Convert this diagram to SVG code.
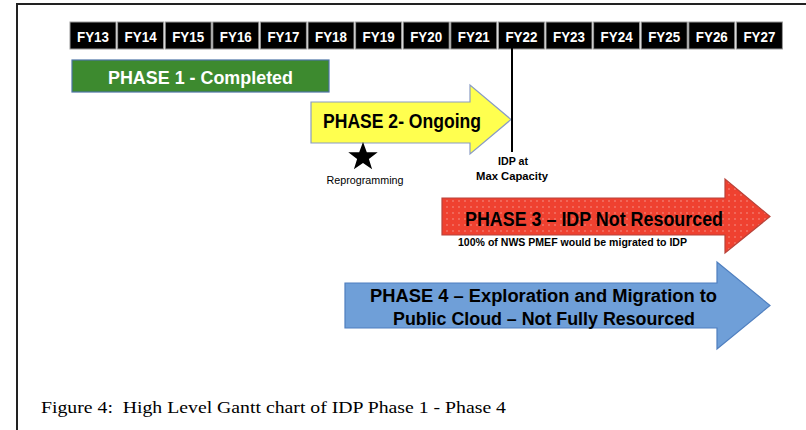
<svg xmlns="http://www.w3.org/2000/svg" width="806" height="430" viewBox="0 0 806 430">
<style>
.fy rect{fill:#000;stroke:#9a9a9a;stroke-width:1}
.fy text{fill:#fff;font-family:"Liberation Sans",Arial,sans-serif;font-weight:bold;font-size:15.5px;text-anchor:middle}
.lbl{font-family:"Liberation Sans",Arial,sans-serif;font-weight:bold;text-anchor:middle}
</style>
<defs>
<pattern id="dots" width="6" height="6" patternUnits="userSpaceOnUse">
<rect width="6" height="6" fill="#ef4130"/>
<circle cx="3" cy="3" r="0.7" fill="#f6aaa0"/>
</pattern>
</defs>
<rect width="806" height="430" fill="#fff"/>
<g id="frame" fill="none" stroke="#222" stroke-width="2">
<path d="M17,430 V4 H806"/>
</g>
<g id="timeline" class="fy">
<rect x="70" y="22" width="46" height="27"/><text x="93" y="41.5" textLength="32" lengthAdjust="spacingAndGlyphs">FY13</text>
<rect x="117.6" y="22" width="46" height="27"/><text x="140.6" y="41.5" textLength="32" lengthAdjust="spacingAndGlyphs">FY14</text>
<rect x="165.2" y="22" width="46" height="27"/><text x="188.2" y="41.5" textLength="32" lengthAdjust="spacingAndGlyphs">FY15</text>
<rect x="212.8" y="22" width="46" height="27"/><text x="235.8" y="41.5" textLength="32" lengthAdjust="spacingAndGlyphs">FY16</text>
<rect x="260.4" y="22" width="46" height="27"/><text x="283.4" y="41.5" textLength="32" lengthAdjust="spacingAndGlyphs">FY17</text>
<rect x="308" y="22" width="46" height="27"/><text x="331" y="41.5" textLength="32" lengthAdjust="spacingAndGlyphs">FY18</text>
<rect x="355.6" y="22" width="46" height="27"/><text x="378.6" y="41.5" textLength="32" lengthAdjust="spacingAndGlyphs">FY19</text>
<rect x="403.2" y="22" width="46" height="27"/><text x="426.2" y="41.5" textLength="32" lengthAdjust="spacingAndGlyphs">FY20</text>
<rect x="450.8" y="22" width="46" height="27"/><text x="473.8" y="41.5" textLength="32" lengthAdjust="spacingAndGlyphs">FY21</text>
<rect x="498.4" y="22" width="46" height="27"/><text x="521.4" y="41.5" textLength="32" lengthAdjust="spacingAndGlyphs">FY22</text>
<rect x="546" y="22" width="46" height="27"/><text x="569" y="41.5" textLength="32" lengthAdjust="spacingAndGlyphs">FY23</text>
<rect x="593.6" y="22" width="46" height="27"/><text x="616.6" y="41.5" textLength="32" lengthAdjust="spacingAndGlyphs">FY24</text>
<rect x="641.2" y="22" width="46" height="27"/><text x="664.2" y="41.5" textLength="32" lengthAdjust="spacingAndGlyphs">FY25</text>
<rect x="688.8" y="22" width="46" height="27"/><text x="711.8" y="41.5" textLength="32" lengthAdjust="spacingAndGlyphs">FY26</text>
<rect x="736.4" y="22" width="46" height="27"/><text x="759.4" y="41.5" textLength="32" lengthAdjust="spacingAndGlyphs">FY27</text>
</g>
<g id="phase1">
<rect x="72" y="60" width="257" height="32" fill="#3d8a2f" stroke="#4d74a6" stroke-width="1.2"/>
<text class="lbl" x="200.5" y="83.5" font-size="18" fill="#fff" textLength="185" lengthAdjust="spacingAndGlyphs">PHASE 1 - Completed</text>
</g>
<g id="phase2">
<path d="M311,102 H470 V85 L511,119.5 L470,154 V143 H311 Z" fill="#ffff4f" stroke="#8a9cc4" stroke-width="1.2"/>
<text class="lbl" x="402" y="128" font-size="20" fill="#000" textLength="158" lengthAdjust="spacingAndGlyphs">PHASE 2- Ongoing</text>
</g>
<g id="connectors">
<line x1="512" y1="48" x2="512" y2="152" stroke="#000" stroke-width="2"/>
</g>
<g id="idp-capacity">
<text class="lbl" x="513" y="164.5" font-size="11" fill="#000" textLength="30" lengthAdjust="spacingAndGlyphs">IDP at</text>
<text class="lbl" x="512" y="180" font-size="11" fill="#000" textLength="72" lengthAdjust="spacingAndGlyphs">Max Capacity</text>
</g>
<g id="reprogramming">
<polygon points="363,142 366.8,152.3 377.7,152.3 368.9,158.9 372.1,169.3 363,163 353.9,169.3 357.1,158.9 348.3,152.3 359.2,152.3" fill="#000"/>
<text x="365" y="184" font-family="Liberation Sans,Arial,sans-serif" font-size="10.5" text-anchor="middle" fill="#000" textLength="77" lengthAdjust="spacingAndGlyphs">Reprogramming</text>
</g>
<g id="phase3">
<path d="M442,198 H725 V179 L770,216.5 L725,253 V235 H442 Z" fill="url(#dots)" stroke="#b8433a" stroke-width="1.2"/>
<text class="lbl" x="594" y="226" font-size="20" fill="#000" textLength="258" lengthAdjust="spacingAndGlyphs">PHASE 3 – IDP Not Resourced</text>
<text class="lbl" x="572.5" y="245.5" font-size="10.5" fill="#000" textLength="229" lengthAdjust="spacingAndGlyphs">100% of NWS PMEF would be migrated to IDP</text>
</g>
<g id="phase4">
<path d="M345,283 H717 V262 L770,305.5 L717,349 V328 H345 Z" fill="#6f9fd8" stroke="#4f7fbf" stroke-width="1.2"/>
<text class="lbl" x="543.5" y="301.5" font-size="18" fill="#000" textLength="347" lengthAdjust="spacingAndGlyphs">PHASE 4 – Exploration and Migration to</text>
<text class="lbl" x="544" y="324.5" font-size="18" fill="#000" textLength="302" lengthAdjust="spacingAndGlyphs">Public Cloud – Not Fully Resourced</text>
</g>
<g id="caption">
<text x="41" y="413" font-family="Liberation Serif,Times New Roman,serif" font-size="17.5" fill="#000" textLength="465" lengthAdjust="spacingAndGlyphs" xml:space="preserve">Figure 4:  High Level Gantt chart of IDP Phase 1 - Phase 4</text>
</g>
</svg>
